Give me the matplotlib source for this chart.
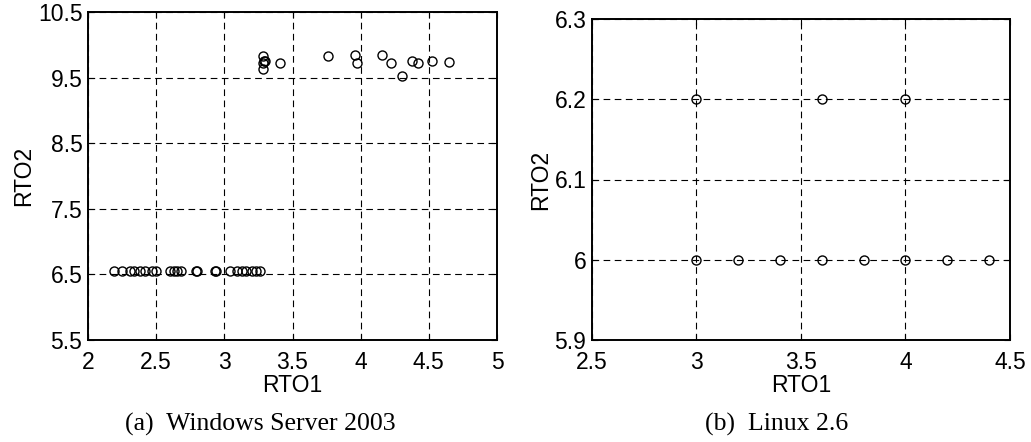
import matplotlib.pyplot as plt

# (a) Windows Server 2003
win_rto1 = [
    2.19, 2.25, 2.31, 2.34, 2.38, 2.42, 2.47, 2.50, 2.60, 2.63, 2.65, 2.68,
    2.79, 2.80, 2.93, 2.94, 3.04, 3.09, 3.13, 3.16, 3.20, 3.23, 3.26,
    3.28, 3.28, 3.29, 3.30, 3.28, 3.41, 3.76, 3.96, 3.97, 4.16, 4.22,
    4.30, 4.38, 4.42, 4.52, 4.65,
]
win_rto2 = [
    6.55, 6.55, 6.55, 6.55, 6.55, 6.55, 6.55, 6.55, 6.55, 6.55, 6.55, 6.55,
    6.55, 6.55, 6.55, 6.55, 6.55, 6.55, 6.55, 6.55, 6.55, 6.55, 6.55,
    9.83, 9.73, 9.76, 9.75, 9.63, 9.73, 9.83, 9.84, 9.73, 9.84, 9.73,
    9.53, 9.75, 9.72, 9.75, 9.74,
]

# (b) Linux 2.6
lin_rto1 = [3.0, 3.6, 4.0, 3.0, 3.2, 3.4, 3.6, 3.8, 4.0, 4.2, 4.4]
lin_rto2 = [6.2, 6.2, 6.2, 6.0, 6.0, 6.0, 6.0, 6.0, 6.0, 6.0, 6.0]

win_xticks = [2, 2.5, 3, 3.5, 4, 4.5, 5]
win_yticks = [5.5, 6.5, 7.5, 8.5, 9.5, 10.5]
lin_xticks = [2.5, 3, 3.5, 4, 4.5]
lin_yticks = [5.9, 6, 6.1, 6.2, 6.3]

W, H = 1031, 442
FS = 16.5


def style_axis(ax, xticks, yticks):
    ax.set_xlim(xticks[0], xticks[-1])
    ax.set_ylim(yticks[0], yticks[-1])
    ax.set_xticks(xticks)
    ax.set_yticks(yticks)
    ax.set_xticklabels([f"{t:g}" for t in xticks])
    ax.set_yticklabels([f"{t:g}" for t in yticks])
    ax.grid(True, color="black", linestyle=(0, (6, 4)), linewidth=0.8)
    ax.tick_params(direction="in", length=4, labelsize=FS,
                   top=True, right=True)
    ax.tick_params(axis="x", pad=8)
    ax.tick_params(axis="y", pad=4)
    for spine in ax.spines.values():
        spine.set_linewidth(1.4)
    ax.set_xlabel("RTO1", fontsize=FS, labelpad=0)
    ax.set_ylabel("RTO2", fontsize=FS, labelpad=2)


def main():
    plt.rcParams["font.family"] = ["Liberation Sans", "DejaVu Sans"]

    fig = plt.figure(figsize=(W / 100, H / 100), dpi=100)

    ax_a = fig.add_axes([88 / W, (H - 340) / H, (497 - 88) / W, (340 - 12) / H])
    ax_a.plot(win_rto1, win_rto2, linestyle="none", marker="o",
              markersize=6.5, markerfacecolor="none",
              markeredgecolor="black", markeredgewidth=1.0)
    style_axis(ax_a, win_xticks, win_yticks)

    ax_b = fig.add_axes([592 / W, (H - 340) / H, (1010 - 592) / W, (340 - 19) / H])
    ax_b.plot(lin_rto1, lin_rto2, linestyle="none", marker="o",
              markersize=6.5, markerfacecolor="none",
              markeredgecolor="black", markeredgewidth=1.0)
    style_axis(ax_b, lin_xticks, lin_yticks)

    fig.text(260 / W, 1 - 424 / H, "(a)  Windows Server 2003",
             ha="center", va="center", fontsize=18.5,
             family=["Liberation Serif", "DejaVu Serif"])
    fig.text(777 / W, 1 - 424 / H, "(b)  Linux 2.6",
             ha="center", va="center", fontsize=18.5,
             family=["Liberation Serif", "DejaVu Serif"])

    fig.savefig("out.png", dpi=100)
    plt.close(fig)


if __name__ == "__main__":
    main()
